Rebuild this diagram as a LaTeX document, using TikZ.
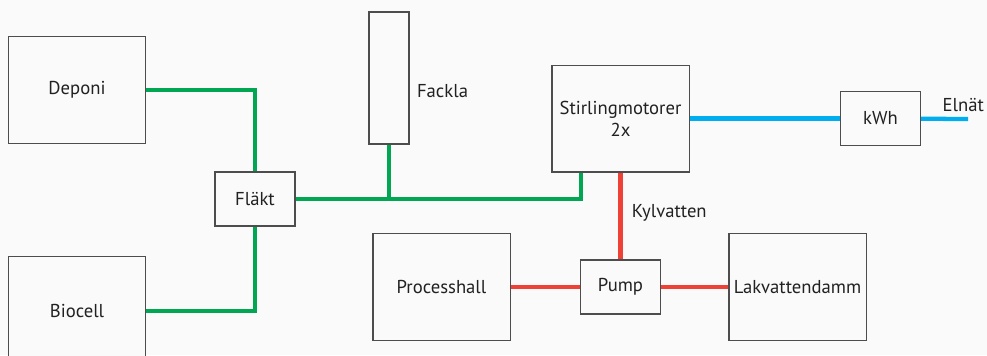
\documentclass[tikz,border=0pt]{standalone}
\usepackage{fontspec}
\setmainfont{PT Sans}
\usepackage{xcolor}
\usetikzlibrary{positioning, calc}

\definecolor{gaspipe}{RGB}{0,166,81}
\definecolor{waterpipe}{RGB}{239,65,54}
\definecolor{powerline}{RGB}{0,174,239}
\definecolor{boxline}{RGB}{77,77,77}
\definecolor{paper}{RGB}{250,250,250}

\begin{document}
\begin{tikzpicture}[
	x=0.75pt, y=-0.75pt,
	font=\fontsize{14}{16.5}\selectfont,
	text=black!87,
	% Define styles for the boxes
	bigbox/.style={
		draw=boxline,
		fill=paper,
		line width=1pt,
		minimum width=103pt,
		minimum height=80pt,
		align=center,
		inner sep=1pt
	},
	smallbox/.style={
		draw=boxline,
		fill=paper,
		line width=1pt,
		minimum width=60pt,
		minimum height=40.5pt,
		align=center
	},
	gas/.style={draw=gaspipe, line width=3.2pt},
	water/.style={draw=waterpipe, line width=3.2pt},
	power/.style={draw=powerline, line width=3.2pt}
	]
	
	\path[use as bounding box, fill=paper] (0,0) rectangle (987,355);
	\clip (0,0) rectangle (987,355);
	
	% --- 1. SOURCES ---
	\node[bigbox] (deponi) at (77,90) {Deponi};
	\node[bigbox, below=84pt of deponi, minimum height=81pt] (biocell) {Biocell};
	
	% --- 2. FAN AND FLARE ---
	\node[smallbox] (flakt) at (255,199) {Fläkt};
	\node[draw=boxline, fill=paper, line width=1pt, minimum width=30pt, minimum height=99pt] (fackla) at (389,78) {};
	\node[anchor=west] (fackla_label) at ([xshift=2pt, yshift=-9.75pt]fackla.east) {Fackla};
	
	% --- 3. STIRLING ENGINES ---
	\node[bigbox] (stirling) at (620.5,118.5) {Stirlingmotorer\\2x};
	\node[smallbox, right=112.5pt of stirling] (kwh) {kWh};
	\coordinate (elnat) at (968,119);
	\node[anchor=south] (elnat_label) at ([xshift=-3.5pt, yshift=2pt]elnat) {Elnät};
	
	% --- 4. COOLING WATER ---
	\node[smallbox, below=65pt of stirling] (pump) {Pump};
	\node[bigbox, left=51.75pt of pump] (processhall) {Processhall};
	\node[bigbox, right=50.25pt of pump] (lakvatten) {Lakvattendamm};
	
	% Gas lines
	\draw[gas] (deponi.east) -| (flakt.north);
	\draw[gas] (biocell.east) -| (flakt.south);
	\draw[gas] (flakt.east) -| ([xshift=22.5pt]stirling.south west);
	\draw[gas] (fackla.south) -- (fackla.south |- flakt.east);
	
	% Water lines
	\draw[water] (stirling.south) -- node[midway, right=3.5pt, yshift=2pt] (kylvatten) {Kylvatten} (pump.north);
	\draw[water] (processhall) -- (pump);
	\draw[water] (pump) -- (lakvatten);
	
	% Power lines
	\draw[power] (stirling) -- (kwh);
	\draw[power] (kwh) -- (elnat);
	
\end{tikzpicture}
\end{document}
